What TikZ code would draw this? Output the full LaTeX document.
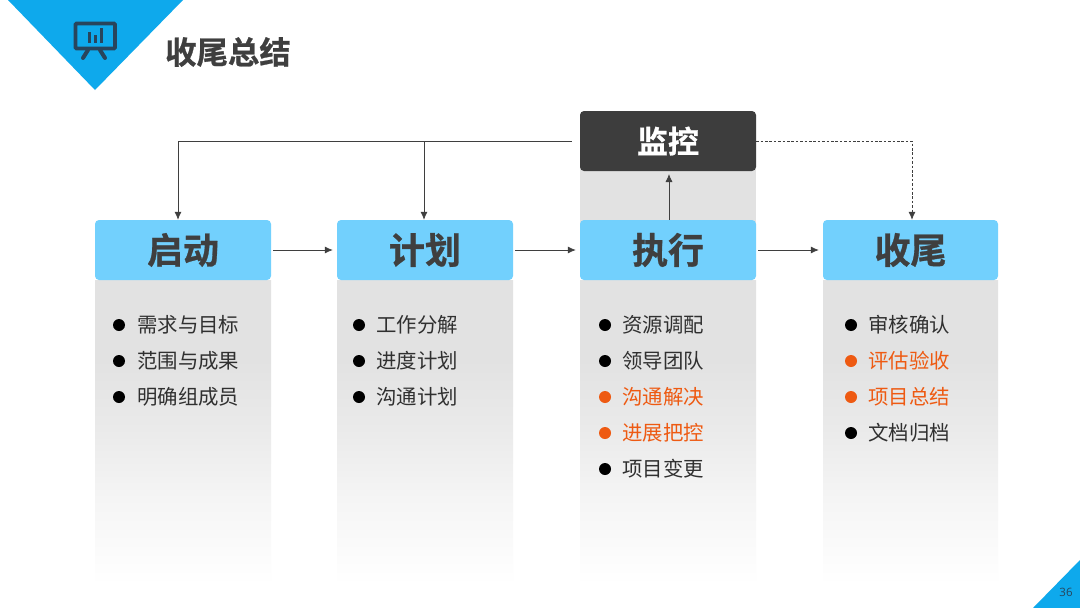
\documentclass[tikz,border=0pt]{standalone}
\usepackage{fontspec}
\usetikzlibrary{arrows.meta,calc}
\setmainfont{Noto Sans CJK SC}
\newfontfamily\cjkb[FakeBold=0.8]{Noto Sans CJK SC Bold}
\newfontfamily\pagefont{Open Sans}
\definecolor{triblue}{HTML}{0EA9EC}
\definecolor{headblue}{HTML}{72D0FD}
\definecolor{dark}{HTML}{3D3D3D}
\definecolor{ink}{HTML}{3F3F3F}
\definecolor{itemink}{HTML}{303030}
\definecolor{icon}{HTML}{28455C}
\definecolor{hot}{HTML}{EE5A12}
\definecolor{bodygray}{HTML}{E2E2E2}
\pgfdeclareverticalshading{fadegray}{100bp}{color(0bp)=(white); color(25bp)=(white); color(29bp)=(white!90!bodygray); color(39bp)=(white!66!bodygray); color(50.5bp)=(white!28!bodygray); color(62bp)=(bodygray); color(100bp)=(bodygray)}
\tikzset{
  x=1pt,y=-1pt,
  head/.style={fill=headblue,rounded corners=4pt,minimum width=176pt,minimum height=60pt,inner sep=0pt,text=ink,font=\cjkb\fontsize{36}{37}\selectfont},
  mon/.style={fill=dark,rounded corners=4pt,minimum width=176pt,minimum height=60pt,inner sep=0pt,text=white,font=\cjkb\fontsize{31}{32}\selectfont},
  bodyrect/.style={shading=fadegray,draw=none},
  item/.style={anchor=west,inner sep=0pt,text=itemink,font=\fontsize{20.4}{22}\selectfont},
  hotitem/.style={item,text=hot},
  dotk/.style={circle,fill=black,minimum size=12pt,inner sep=0pt},
  dothot/.style={dotk,fill=hot},
  link/.style={draw=ink,line width=0.8pt,-{Latex[length=8pt,width=7pt]}},
  plain/.style={draw=ink,line width=0.8pt},
  dashlink/.style={link,dash pattern=on 2.6pt off 1.8pt},
}
\begin{document}
\begin{tikzpicture}
\useasboundingbox (0,0) rectangle (1080,608);
\fill[white] (0,0) rectangle (1080,608);
% corner triangles
\fill[triblue] (8,0) -- (183,0) -- (95,90) -- cycle;
\fill[triblue] (1033,608) -- (1080,560) -- (1080,608) -- cycle;
\node[text=icon,font=\pagefont\fontsize{11.5}{12}\selectfont,inner sep=0pt] (pg) at (1066,592) {36};
% icon
\draw[icon,line width=3.6pt,rounded corners=1pt] (75.5,23.5) rectangle (115,48.5);
\draw[icon,line width=3pt] (89,32) -- (89,43);
\draw[icon,line width=3pt] (95,35) -- (95,43);
\draw[icon,line width=3pt] (101,28) -- (101,43);
\draw[icon,line width=4pt,line cap=round] (88,50) -- (83,58);
\draw[icon,line width=4pt,line cap=round] (100,50) -- (105,58);
% title
\node[text=ink,font=\cjkb\fontsize{31.4}{32}\selectfont,inner sep=0pt,anchor=west] (title) at (165,52) {收尾总结};
% body panels
\path[bodyrect] (95,280) rectangle (271,585);
\path[bodyrect] (337,280) rectangle (513,585);
\path[bodyrect] (580,280) rectangle (756,585);
\path[bodyrect] (823,280) rectangle (998,585);
\fill[bodygray] (580,165) rectangle (756,225);
% header boxes
\node[head] (qd) at (183,250) {启动};
\node[head] (jh) at (425,250) {计划};
\node[head] (zx) at (668,250) {执行};
\node[head,minimum width=175pt] (sw) at (910.5,250) {收尾};
\node[mon] (jk) at (668,141) {监控};
% connectors
\coordinate (jkL) at ($(jk.west)+(-8,0)$);
\coordinate (t1) at (178,141);
\coordinate (t2) at (424,141);
\coordinate (t3) at (912,141);
\coordinate (up) at (669,171);
\draw[plain] (jkL) -- (t1);
\draw[link] (t1) -- (t1 |- qd.north);
\draw[link] (t2) -- (t2 |- jh.north);
\draw[dashlink] (jk.east) -- (t3) -- (t3 |- sw.north);
\draw[link,shorten >=3pt] (up |- zx.north) -- (up);
\draw[link,shorten <=2pt,shorten >=4pt] (qd) -- (jh);
\draw[link,shorten <=2pt,shorten >=4pt] (jh) -- (zx);
\draw[link,shorten <=2pt,shorten >=4pt] (zx) -- (sw);
% column 1
\node[dotk] (a1d) at (119,325) {}; \node[item] (a1) at (137,325) {需求与目标};
\node[dotk] (a2d) at (119,361) {}; \node[item] (a2) at (137,361) {范围与成果};
\node[dotk] (a3d) at (119,397) {}; \node[item] (a3) at (137,397) {明确组成员};
% column 2
\node[dotk] (b1d) at (359,325) {}; \node[item] (b1) at (376,325) {工作分解};
\node[dotk] (b2d) at (359,361) {}; \node[item] (b2) at (376,361) {进度计划};
\node[dotk] (b3d) at (359,397) {}; \node[item] (b3) at (376,397) {沟通计划};
% column 3
\node[dotk] (c1d) at (605,325) {}; \node[item] (c1) at (622,325) {资源调配};
\node[dotk] (c2d) at (605,361) {}; \node[item] (c2) at (622,361) {领导团队};
\node[dothot] (c3d) at (605,397) {}; \node[hotitem] (c3) at (622,397) {沟通解决};
\node[dothot] (c4d) at (605,433) {}; \node[hotitem] (c4) at (622,433) {进展把控};
\node[dotk] (c5d) at (605,469) {}; \node[item] (c5) at (622,469) {项目变更};
% column 4
\node[dotk] (d1d) at (851,325) {}; \node[item] (d1) at (868,325) {审核确认};
\node[dothot] (d2d) at (851,361) {}; \node[hotitem] (d2) at (868,361) {评估验收};
\node[dothot] (d3d) at (851,397) {}; \node[hotitem] (d3) at (868,397) {项目总结};
\node[dotk] (d4d) at (851,433) {}; \node[item] (d4) at (868,433) {文档归档};
\end{tikzpicture}
\end{document}
